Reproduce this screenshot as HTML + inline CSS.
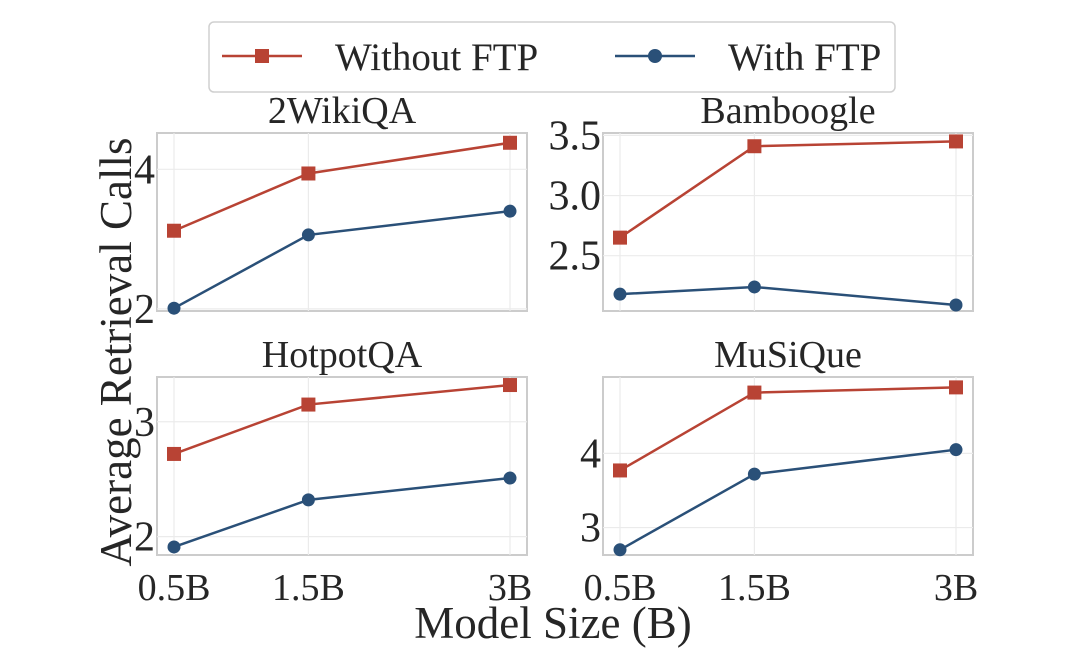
<!DOCTYPE html>
<html><head><meta charset="utf-8"><style>
body{margin:0;background:#fff;width:1080px;height:658px;overflow:hidden}
svg text{font-family:"Liberation Serif",serif;fill:#262626}
</style></head><body>
<svg id="chart" width="1080" height="658">
<g>
<rect x="209" y="22" width="686" height="70" rx="5" fill="#fff" stroke="#d0d0d0" stroke-width="1.5"/>
<line x1="222" y1="56" x2="302" y2="56" stroke="#b84334" stroke-width="2.5"/>
<rect x="255" y="49" width="14" height="14" fill="#b84334"/>
<text x="335" y="70" font-size="39">Without FTP</text>
<line x1="615" y1="56" x2="695" y2="56" stroke="#2a5078" stroke-width="2.5"/>
<circle cx="655" cy="56" r="7" fill="#2a5078"/>
<text x="728" y="70" font-size="39">With FTP</text>
</g>
<text x="0" y="0" font-size="45" text-anchor="middle" transform="translate(131,352) rotate(-90)">Average Retrieval Calls</text>
<text x="553" y="638" font-size="45" text-anchor="middle">Model Size (B)</text>
<g id="plots"></g>
</svg>
<script>
const categories=["0.5B","1.5B","3B"];
const titles=["2WikiQA","Bamboogle","HotpotQA","MuSiQue"];
const withoutFTP=[[3.12,3.94,4.38],[2.65,3.41,3.45],[2.72,3.15,3.32],[3.77,4.82,4.89]];
const withFTP=[[2.01,3.06,3.40],[2.18,2.24,2.09],[1.91,2.32,2.51],[2.70,3.72,4.05]];
const tickLabels=[["2","4"],["2.5","3.0","3.5"],["2","3"],["3","4"]];
const tickValues=[[2,4],[2.5,3.0,3.5],[2,3],[3,4]];
const yDomains=[[1.97,4.52],[2.04,3.52],[1.84,3.39],[2.63,5.03]];
const xPos=[0.5,1.5,3];
const NS="http://www.w3.org/2000/svg";
const g=document.getElementById('plots');
function mk(t,a,p){const e=document.createElementNS(NS,t);for(const k in a)e.setAttribute(k,a[k]);(p||g).appendChild(e);return e;}
const boxes=[[157,133],[603,133],[157,377],[603,377]];
const W=370,H=178;
titles.forEach((title,i)=>{
  const [bx,by]=boxes[i];
  const grp=mk('g',{});
  
  
  const x=v=>bx+17+(v-0.5)/2.5*(W-34);
  const [d0,d1]=yDomains[i];
  const y=v=>by+H-(v-d0)/(d1-d0)*H;
  mk('rect',{x:bx,y:by,width:W,height:H,fill:'#fff',stroke:'#cccccc','stroke-width':2},grp);
  xPos.forEach((v,j)=>{mk('line',{x1:x(v),x2:x(v),y1:by,y2:by+H,stroke:'#ebebeb','stroke-width':1.2},grp);
    if(i>=2){const t=mk('text',{x:x(v),y:by+H+45,'font-size':38,'text-anchor':'middle'},grp);t.textContent=categories[j];
      
      }});
  tickValues[i].forEach((v,j)=>{mk('line',{x1:bx,x2:bx+W,y1:y(v),y2:y(v),stroke:'#ebebeb','stroke-width':1.2},grp);
    const t=mk('text',{x:bx-2,y:y(v)+14,'font-size':42,'text-anchor':'end'},grp);t.textContent=tickLabels[i][j];
    
    });
  const tt=mk('text',{x:bx+W/2,y:by-10,'font-size':38,'text-anchor':'middle'},grp);tt.textContent=title;
  
  
  const r=withoutFTP[i],b=withFTP[i];
  const l1=mk('polyline',{points:xPos.map((v,j)=>x(v)+','+y(r[j])).join(' '),fill:'none',stroke:'#b84334','stroke-width':2.5},grp);
  
  
  const l2=mk('polyline',{points:xPos.map((v,j)=>x(v)+','+y(b[j])).join(' '),fill:'none',stroke:'#2a5078','stroke-width':2.5},grp);
  
  
  xPos.forEach((v,j)=>{
    const s=mk('rect',{x:x(v)-7,y:y(r[j])-7,width:14,height:14,fill:'#b84334'},grp);
    
    
    const c=mk('circle',{cx:x(v),cy:y(b[j]),r:6.5,fill:'#2a5078'},grp);
    
    
  });
});
</script>
</body></html>
